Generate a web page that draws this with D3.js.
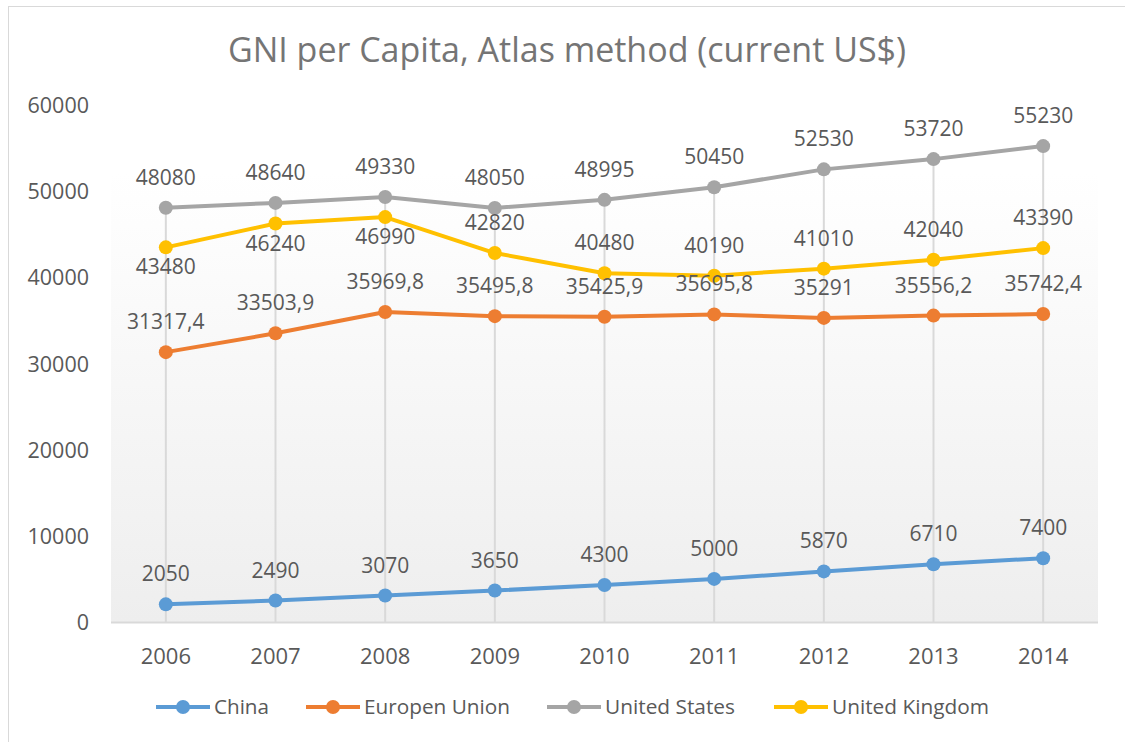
<!DOCTYPE html>
<html>
<head>
<meta charset="utf-8">
<script src="https://cdn.jsdelivr.net/npm/d3@7"></script>
<style>
  body { margin: 0; background: #fff; }
  text { font-family: "Open Sans", sans-serif; }
</style>
</head>
<body>
<svg id="chart" width="1125" height="742"></svg>
<script>
var years = ["2006", "2007", "2008", "2009", "2010", "2011", "2012", "2013", "2014"];
var china = [2050, 2490, 3070, 3650, 4300, 5000, 5870, 6710, 7400];
var eu = [31317.4, 33503.9, 35969.8, 35495.8, 35425.9, 35695.8, 35291, 35556.2, 35742.4];
var us = [48080, 48640, 49330, 48050, 48995, 50450, 52530, 53720, 55230];
var uk = [43480, 46240, 46990, 42820, 40480, 40190, 41010, 42040, 43390];
// labels under the point for these UK years
var ukBelow = ["2006", "2007", "2008"];
var yTicks = [0, 10000, 20000, 30000, 40000, 50000, 60000];

var series = [
  { name: "China", values: china, color: "#5b9bd5" },
  { name: "Europen Union", values: eu, color: "#ed7d31" },
  { name: "United States", values: us, color: "#a5a5a5" },
  { name: "United Kingdom", values: uk, color: "#ffc000" }
];

var svg = d3.select("#chart");
var plotL = 111, plotR = 1098, plotT = 105, plotB = 622;

// chart border
svg.append("rect").attr("x", 8.5).attr("y", 6.5).attr("width", 1130).attr("height", 760)
  .attr("fill", "#fff").attr("stroke", "#d9d9d9");

var grad = svg.append("defs").append("linearGradient").attr("id", "bg")
  .attr("x1", 0).attr("y1", 0).attr("x2", 0).attr("y2", 1);
grad.append("stop").attr("offset", "0%").attr("stop-color", "#ffffff");
grad.append("stop").attr("offset", "100%").attr("stop-color", "#eeeeee");

svg.append("rect").attr("x", plotL).attr("y", 172).attr("width", plotR - plotL).attr("height", plotB - 172)
  .attr("fill", "url(#bg)");

var x = d3.scaleBand().domain(years).range([plotL, plotR]);
var y = d3.scaleLinear().domain([0, 60000]).range([plotB, plotT]);
var cx = function (d) { return x(d) + x.bandwidth() / 2; };

svg.append("text").attr("x", 567).attr("y", 62).attr("text-anchor", "middle")
  .attr("font-size", 34).attr("fill", "#757575")
  .text("GNI per Capita, Atlas method (current US$)");

// y axis labels
svg.append("g").selectAll("text").data(yTicks).enter().append("text")
  .attr("x", 89).attr("y", function (d) { return y(d) + 8; })
  .attr("text-anchor", "end").attr("font-size", 21.5).attr("fill", "#595959")
  .text(function (d) { return d; });

// drop lines from highest point down to axis
var maxByYear = years.map(function (yr, i) {
  return d3.max(series, function (s) { return s.values[i]; });
});
svg.append("g").selectAll("line").data(years).enter().append("line")
  .attr("x1", cx).attr("x2", cx)
  .attr("y1", function (d, i) { return y(maxByYear[i]); })
  .attr("y2", plotB)
  .attr("stroke", "#d9d9d9").attr("stroke-width", 2);

svg.append("line").attr("x1", plotL).attr("x2", plotR).attr("y1", plotB + 0.5).attr("y2", plotB + 0.5)
  .attr("stroke", "#d9d9d9").attr("stroke-width", 2);

// x labels
svg.append("g").selectAll("text").data(years).enter().append("text")
  .attr("x", cx).attr("y", 664).attr("text-anchor", "middle")
  .attr("font-size", 22).attr("fill", "#595959")
  .text(function (d) { return d; });

var line = d3.line()
  .x(function (d, i) { return cx(years[i]); })
  .y(function (d) { return y(d); });

series.forEach(function (s) {
  svg.append("path").datum(s.values).attr("d", line)
    .attr("fill", "none").attr("stroke", s.color).attr("stroke-width", 4)
    .attr("stroke-linejoin", "round");
  svg.append("g").selectAll("circle").data(s.values).enter().append("circle")
    .attr("cx", function (d, i) { return cx(years[i]); })
    .attr("cy", function (d) { return y(d); })
    .attr("r", 7).attr("fill", s.color);
});

var fmt = function (v) { return String(v).replace(".", ","); };
series.forEach(function (s) {
  svg.append("g").selectAll("text").data(s.values).enter().append("text")
    .attr("x", function (d, i) { return cx(years[i]); })
    .attr("y", function (d, i) {
      var below = s.name === "United Kingdom" && ukBelow.indexOf(years[i]) >= 0;
      return below ? y(d) + 27 : y(d) - 23;
    })
    .attr("text-anchor", "middle").attr("font-size", 21).attr("fill", "#595959")
    .text(fmt);
});

// legend
var legX = [156, 306, 547, 774];
var legW = [55, 146, 130, 157];
var leg = svg.append("g").selectAll("g").data(series).enter().append("g")
  .attr("transform", function (d, i) { return "translate(" + legX[i] + ",707)"; });
leg.append("line").attr("x1", 0).attr("x2", 54).attr("stroke", function (d) { return d.color; })
  .attr("stroke-width", 4);
leg.append("circle").attr("cx", 27).attr("r", 7).attr("fill", function (d) { return d.color; });
leg.append("text").attr("x", 58).attr("y", 7).attr("font-size", 20).attr("fill", "#595959")
  .attr("textLength", function (d, i) { return legW[i]; })
  .attr("lengthAdjust", "spacingAndGlyphs")
  .text(function (d) { return d.name; });
</script>
</body>
</html>
